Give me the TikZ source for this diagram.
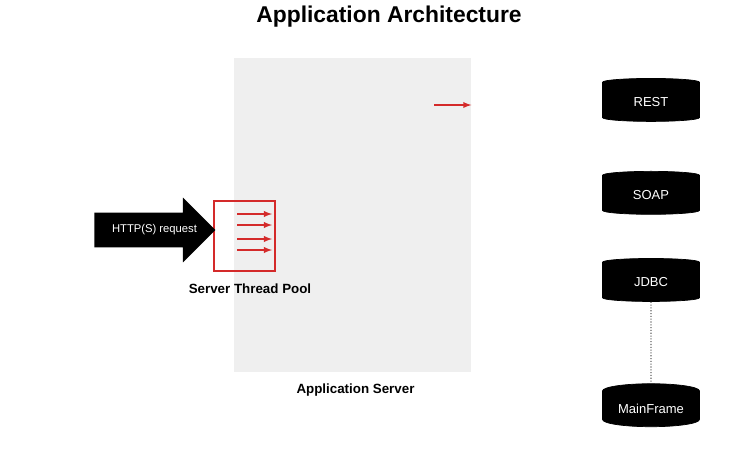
\documentclass[tikz,border=0pt]{standalone}
\usepackage{fontspec}
\setmainfont{Liberation Sans}
\usetikzlibrary{shapes.geometric, shapes.arrows}
\definecolor{srvgray}{HTML}{EFEFEF}
\definecolor{poolred}{HTML}{D42A2A}

\begin{document}
\begin{tikzpicture}[x=0.02cm, y=-0.02cm,
	db/.style = {cylinder, shape border rotate=90, aspect=0.22, fill=black, draw=black,
		text=white, font=\fontsize{7.4}{8}\selectfont, minimum width=1.94cm, minimum height=0.86cm, inner sep=0pt},
	thread/.style = {poolred, line width=0.6pt, -latex},
	lbl/.style = {font=\fontsize{7.6}{9}\selectfont\bfseries}]
	\useasboundingbox (0,0) rectangle (737,457);
	
	\node (title) at (389,17) {\fontsize{13}{15}\selectfont\bfseries Application Architecture};
	
	% application server
	\node [fill=srvgray, minimum width=4.74cm, minimum height=6.28cm, inner sep=0pt] (server) at (352.5,215) {};
	\node [lbl] (serverlbl) at (355.5,390) {Application Server};
	
	\coordinate (outa) at (434,105);
	\draw [thread] (outa) -- (server.east |- outa);
	
	% thread pool
	\node [draw=poolred, line width=1pt, minimum width=1.22cm, minimum height=1.4cm] (pool) at (244.5,236) {};
	\node [lbl] (poollbl) at (250,289) {Server Thread Pool};
	\foreach \y [count=\i] in {214,225,239,250} {
		\coordinate (t\i a) at (237,\y);
		\coordinate (t\i b) at (272,\y);
		\draw [thread] (t\i a) -- (t\i b);
	}
	
	% request
	\node [single arrow, fill=black, anchor=tip, minimum height=2.42cm,
		single arrow head extend=0.3cm, inner ysep=0.34cm, inner xsep=0pt] (request) at ([xshift=1.5] pool.west |- 0,230) {};
	\node [text=white, font=\fontsize{6.4}{7}\selectfont] (reqlbl) at (154.5,230) {HTTP(S) request};
	
	% backends
	\node [db] (rest) at (651,102) {REST};
	\node [db] (soap) at (651,195) {SOAP};
	\node [db] (jdbc) at (651,282) {JDBC};
	\node [db] (mainframe) at (651,409) {MainFrame};
	
	\draw [densely dotted, gray!80!black, line width=0.6pt] (jdbc.south) -- (mainframe.north);
\end{tikzpicture}
\end{document}
